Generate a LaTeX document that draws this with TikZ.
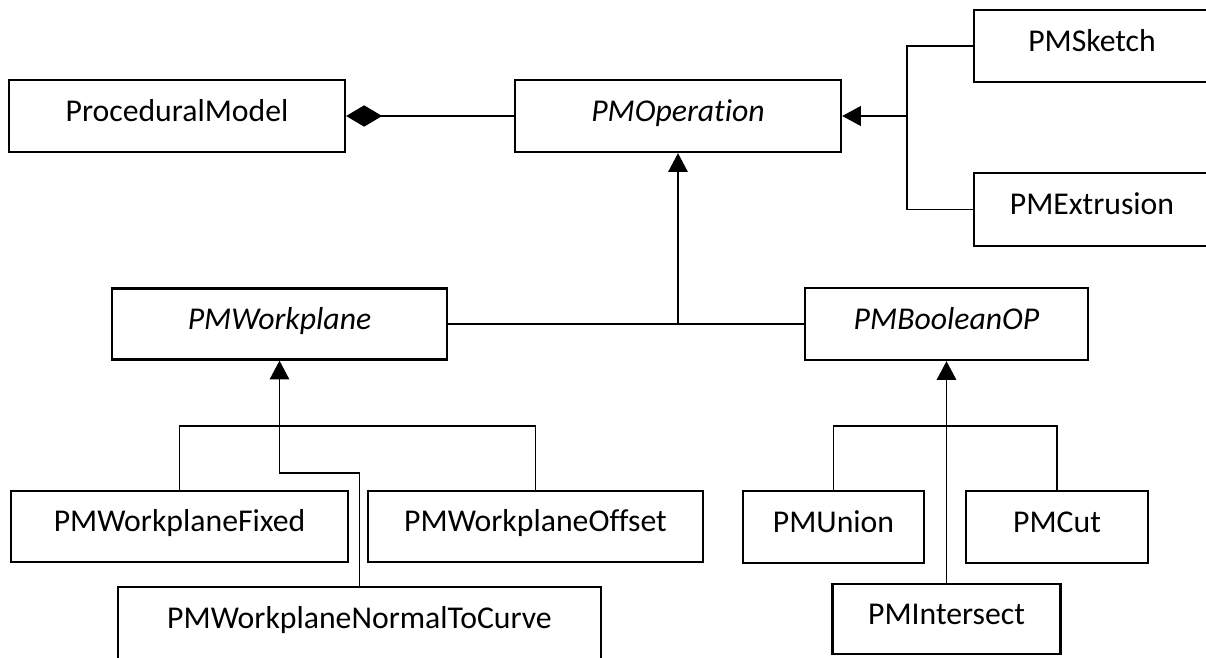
\documentclass[tikz,border=0pt]{standalone}
\usepackage{fontspec}
\setmainfont[Ligatures=NoCommon]{Carlito}
\usetikzlibrary{arrows.meta,positioning,calc}
\tikzset{
	classbox/.style={
		rectangle,
		draw=black,
		line width=1.7pt,
		fill=white,
		inner sep=0pt,
		minimum height=54pt,
		font=\fontsize{23.8}{28}\selectfont,
		text height=15.3pt,
		text depth=7.8pt,
	},
	abstractbox/.style={
		classbox,
		font=\fontsize{23.8}{28}\selectfont\itshape,
	},
	link/.style={
		line width=1.1pt,
	},
	inherit/.style={
		link,
		-{Triangle[width=14.5pt,length=14pt]},
	},
	compose/.style={
		link,
		{Diamond[width=16pt,length=27pt]}-,
	},
}
\begin{document}
\begin{tikzpicture}[x=0.75pt,y=-0.75pt]
	\useasboundingbox (0,0) rectangle (1206,657);
	\clip (0,0) rectangle (1206,657);

	\node[classbox,minimum width=252pt] (model) at (177,116) {ProceduralModel};
	\node[abstractbox,minimum width=244.5pt] (operation) at (678,116) {PMOperation};
	\node[classbox,minimum width=177pt] (sketch) at (1092,46) {PMSketch};
	\node[classbox,minimum width=177pt,minimum height=54.75pt] (extrusion) at (1092,209.5) {PMExtrusion};
	\node[abstractbox,minimum width=251.25pt,minimum height=53.25pt] (workplane) at (279.5,324) {PMWorkplane};
	\node[abstractbox,minimum width=212.25pt] (boolean) at (946.5,324) {PMBooleanOP};
	\node[classbox,minimum width=252.75pt,minimum height=53.25pt] (fixed) at (179.5,526.5) {PMWorkplaneFixed};
	\node[classbox,minimum width=251.25pt,minimum height=53.25pt] (offset) at (535.5,526.5) {PMWorkplaneOffset};
	\node[classbox,minimum width=362.25pt,minimum height=54.75pt] (normal) at (359.5,623.5) {PMWorkplaneNormalToCurve};
	\node[classbox,minimum width=135.75pt] (union) at (833.5,527) {PMUnion};
	\node[classbox,minimum width=136.5pt] (cut) at (1057,527) {PMCut};
	\node[classbox,minimum width=171pt,minimum height=52.5pt] (intersect) at (946.5,619) {PMIntersect};

	\coordinate (opjoin) at (907,116);
	\coordinate (midjoin) at (678,324);
	\coordinate (wpbar) at (279.5,426);
	\coordinate (wpbend) at (279.5,473);
	\coordinate (boolbar) at (946.5,426);

	\draw[compose] (model) -- (operation);
	\draw[link] (sketch.west) -| (opjoin);
	\draw[link] (extrusion.west) -| (opjoin);
	\draw[inherit,line width=2.2pt] (opjoin) -- (operation.east);

	\draw[link] (workplane.east) -- (boolean.west);
	\draw[inherit] (midjoin) -- (operation.south);

	\draw[link] (fixed.north) |- (wpbar) -| (offset.north);
	\draw[inherit] (normal.north) |- (wpbend) -- (workplane.south);

	\draw[link] (union.north) |- (boolbar) -| (cut.north);
	\draw[inherit] (intersect.north) -- (boolean.south);
\end{tikzpicture}
\end{document}
